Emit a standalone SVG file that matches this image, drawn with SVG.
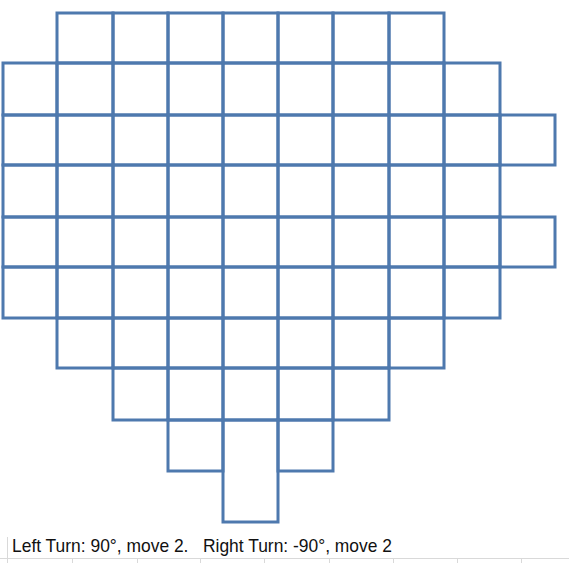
<svg xmlns="http://www.w3.org/2000/svg" width="569" height="563" viewBox="0 0 569 563">
<style>
.c{fill:none;stroke:#4E79AE;stroke-width:3}
.g{stroke:#D9D9D9;stroke-width:1}
.t{font-family:"Liberation Sans",Arial,sans-serif;font-size:19px;fill:#111;white-space:pre}
</style>
<rect width="569" height="563" fill="#fff"/>
<g id="excel-grid">
<line class="g" x1="0" y1="558.5" x2="569" y2="558.5"/>
<line class="g" x1="7.5" y1="537" x2="7.5" y2="563"/>
<line class="g" x1="72.5" y1="558" x2="72.5" y2="563"/>
<line class="g" x1="137.5" y1="558" x2="137.5" y2="563"/>
<line class="g" x1="200.5" y1="558" x2="200.5" y2="563"/>
<line class="g" x1="264.5" y1="558" x2="264.5" y2="563"/>
<line class="g" x1="329.5" y1="558" x2="329.5" y2="563"/>
<line class="g" x1="393.5" y1="558" x2="393.5" y2="563"/>
<line class="g" x1="457.5" y1="558" x2="457.5" y2="563"/>
<line class="g" x1="521.5" y1="558" x2="521.5" y2="563"/>
</g>
<g id="row0">
<rect class="c" x="57" y="13" width="56" height="50"/><rect class="c" x="113" y="13" width="55" height="50"/><rect class="c" x="168" y="13" width="55" height="50"/><rect class="c" x="223" y="13" width="55" height="50"/><rect class="c" x="278" y="13" width="55" height="50"/><rect class="c" x="333" y="13" width="56" height="50"/><rect class="c" x="389" y="13" width="55" height="50"/>
</g>
<g id="row1">
<rect class="c" x="3" y="63" width="54" height="52"/><rect class="c" x="57" y="63" width="56" height="52"/><rect class="c" x="113" y="63" width="55" height="52"/><rect class="c" x="168" y="63" width="55" height="52"/><rect class="c" x="223" y="63" width="55" height="52"/><rect class="c" x="278" y="63" width="55" height="52"/><rect class="c" x="333" y="63" width="56" height="52"/><rect class="c" x="389" y="63" width="55" height="52"/><rect class="c" x="444" y="63" width="56" height="52"/>
</g>
<g id="row2">
<rect class="c" x="3" y="115" width="54" height="50"/><rect class="c" x="57" y="115" width="56" height="50"/><rect class="c" x="113" y="115" width="55" height="50"/><rect class="c" x="168" y="115" width="55" height="50"/><rect class="c" x="223" y="115" width="55" height="50"/><rect class="c" x="278" y="115" width="55" height="50"/><rect class="c" x="333" y="115" width="56" height="50"/><rect class="c" x="389" y="115" width="55" height="50"/><rect class="c" x="444" y="115" width="56" height="50"/><rect class="c" x="500" y="115" width="55" height="50"/>
</g>
<g id="row3">
<rect class="c" x="3" y="165" width="54" height="52"/><rect class="c" x="57" y="165" width="56" height="52"/><rect class="c" x="113" y="165" width="55" height="52"/><rect class="c" x="168" y="165" width="55" height="52"/><rect class="c" x="223" y="165" width="55" height="52"/><rect class="c" x="278" y="165" width="55" height="52"/><rect class="c" x="333" y="165" width="56" height="52"/><rect class="c" x="389" y="165" width="55" height="52"/><rect class="c" x="444" y="165" width="56" height="52"/>
</g>
<g id="row4">
<rect class="c" x="3" y="217" width="54" height="50"/><rect class="c" x="57" y="217" width="56" height="50"/><rect class="c" x="113" y="217" width="55" height="50"/><rect class="c" x="168" y="217" width="55" height="50"/><rect class="c" x="223" y="217" width="55" height="50"/><rect class="c" x="278" y="217" width="55" height="50"/><rect class="c" x="333" y="217" width="56" height="50"/><rect class="c" x="389" y="217" width="55" height="50"/><rect class="c" x="444" y="217" width="56" height="50"/><rect class="c" x="500" y="217" width="55" height="50"/>
</g>
<g id="row5">
<rect class="c" x="3" y="267" width="54" height="51"/><rect class="c" x="57" y="267" width="56" height="51"/><rect class="c" x="113" y="267" width="55" height="51"/><rect class="c" x="168" y="267" width="55" height="51"/><rect class="c" x="223" y="267" width="55" height="51"/><rect class="c" x="278" y="267" width="55" height="51"/><rect class="c" x="333" y="267" width="56" height="51"/><rect class="c" x="389" y="267" width="55" height="51"/><rect class="c" x="444" y="267" width="56" height="51"/>
</g>
<g id="row6">
<rect class="c" x="57" y="318" width="56" height="50"/><rect class="c" x="113" y="318" width="55" height="50"/><rect class="c" x="168" y="318" width="55" height="50"/><rect class="c" x="223" y="318" width="55" height="50"/><rect class="c" x="278" y="318" width="55" height="50"/><rect class="c" x="333" y="318" width="56" height="50"/><rect class="c" x="389" y="318" width="55" height="50"/>
</g>
<g id="row7">
<rect class="c" x="113" y="368" width="55" height="52"/><rect class="c" x="168" y="368" width="55" height="52"/><rect class="c" x="223" y="368" width="55" height="52"/><rect class="c" x="278" y="368" width="55" height="52"/><rect class="c" x="333" y="368" width="56" height="52"/>
</g>
<g id="row8">
<rect class="c" x="168" y="420" width="55" height="51"/><rect class="c" x="223" y="420" width="55" height="102"/><rect class="c" x="278" y="420" width="55" height="51"/>
</g>
<g id="caption">
<text class="t" x="12" y="552" textLength="380" lengthAdjust="spacingAndGlyphs" xml:space="preserve">Left Turn: 90°, move 2.   Right Turn: -90°, move 2</text>
</g>
</svg>
